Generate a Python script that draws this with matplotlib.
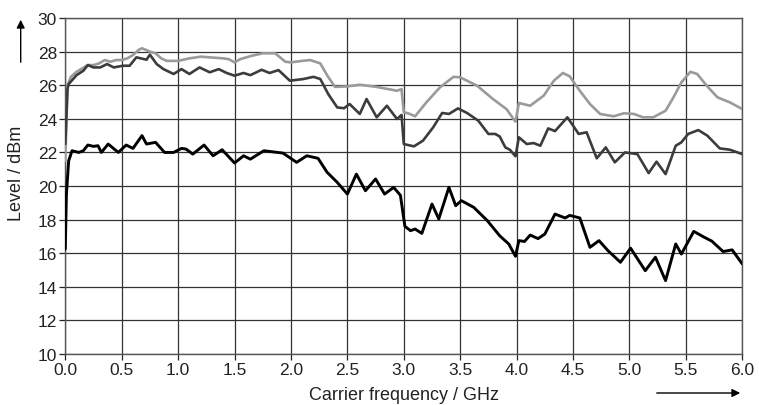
import matplotlib
matplotlib.use("Agg")
import matplotlib.pyplot as plt
from matplotlib.patches import FancyArrowPatch

plt.rcParams["font.family"] = ["Liberation Sans", "DejaVu Sans"]

light_freq = [0.0, 0.02, 0.05, 0.1, 0.15, 0.2, 0.25, 0.3, 0.35, 0.4, 0.45, 0.5, 0.55, 0.6,
              0.65, 0.68, 0.75, 0.8, 0.85, 0.9, 1.0, 1.1, 1.2, 1.3, 1.4, 1.45, 1.5, 1.55,
              1.65, 1.75, 1.86, 1.95, 2.0, 2.1, 2.17, 2.26, 2.32, 2.39, 2.5, 2.61, 2.76,
              2.94, 2.98, 3.0, 3.05, 3.1, 3.2, 3.32, 3.44, 3.5, 3.65, 3.79, 3.91, 3.99,
              4.02, 4.12, 4.24, 4.33, 4.41, 4.47, 4.56, 4.65, 4.74, 4.86, 4.95, 5.04,
              5.12, 5.21, 5.32, 5.39, 5.46, 5.54, 5.6, 5.69, 5.78, 5.89, 6.0]
light_level = [21.5, 26.0, 26.5, 26.8, 27.0, 27.2, 27.2, 27.3, 27.5, 27.4, 27.5, 27.5, 27.6,
               27.8, 28.1, 28.2, 28.0, 27.9, 27.6, 27.45, 27.45, 27.6, 27.7, 27.65, 27.6,
               27.55, 27.36, 27.55, 27.75, 27.9, 27.9, 27.4, 27.36, 27.45, 27.5, 27.3,
               26.6, 25.9, 25.93, 26.03, 25.9, 25.67, 25.77, 24.4, 24.3, 24.15, 24.98,
               25.87, 26.5, 26.47, 25.97, 25.18, 24.58, 23.83, 24.94, 24.78, 25.38, 26.27,
               26.73, 26.53, 25.67, 24.88, 24.29, 24.15, 24.33, 24.29, 24.09, 24.09,
               24.48, 25.28, 26.17, 26.8, 26.67, 25.93, 25.28, 24.98, 24.58]

dark_freq = [0.0, 0.02, 0.03, 0.1, 0.16, 0.2, 0.25, 0.31, 0.37, 0.43, 0.51, 0.57, 0.63,
             0.72, 0.75, 0.81, 0.87, 0.96, 1.03, 1.1, 1.19, 1.28, 1.36, 1.43, 1.5, 1.58,
             1.64, 1.74, 1.81, 1.89, 1.99, 2.11, 2.2, 2.26, 2.33, 2.41, 2.47, 2.52, 2.61,
             2.67, 2.76, 2.85, 2.94, 2.98, 3.0, 3.09, 3.17, 3.26, 3.34, 3.4, 3.48, 3.56,
             3.66, 3.75, 3.81, 3.85, 3.9, 3.94, 3.99, 4.02, 4.09, 4.15, 4.21, 4.28, 4.34,
             4.45, 4.55, 4.62, 4.71, 4.79, 4.87, 4.96, 5.07, 5.17, 5.24, 5.32, 5.41,
             5.46, 5.52, 5.61, 5.69, 5.8, 5.89, 6.0]
dark_level = [22.5, 25.8, 26.07, 26.6, 26.86, 27.2, 27.06, 27.06, 27.26, 27.06, 27.16,
              27.16, 27.66, 27.52, 27.82, 27.26, 26.96, 26.67, 26.96, 26.67, 27.06, 26.77,
              26.96, 26.73, 26.57, 26.73, 26.6, 26.92, 26.73, 26.9, 26.27, 26.37, 26.5,
              26.37, 25.48, 24.68, 24.63, 24.88, 24.29, 25.18, 24.09, 24.78, 23.99, 24.23,
              22.5, 22.36, 22.7, 23.49, 24.35, 24.29, 24.62, 24.35, 23.89, 23.1, 23.1,
              22.95, 22.3, 22.16, 21.77, 22.9, 22.5, 22.56, 22.4, 23.43, 23.27, 24.09,
              23.1, 23.2, 21.65, 22.3, 21.41, 22.0, 21.9, 20.77, 21.45, 20.71, 22.4,
              22.6, 23.1, 23.33, 23.0, 22.24, 22.16, 21.9]

black_freq = [0.0, 0.01, 0.03, 0.06, 0.12, 0.16, 0.2, 0.25, 0.29, 0.32, 0.38, 0.47, 0.54,
              0.6, 0.68, 0.72, 0.8, 0.88, 0.96, 1.03, 1.07, 1.13, 1.23, 1.31, 1.39, 1.5,
              1.58, 1.64, 1.76, 1.93, 2.05, 2.14, 2.24, 2.32, 2.41, 2.5, 2.58, 2.66, 2.75,
              2.83, 2.91, 2.97, 3.01, 3.06, 3.1, 3.16, 3.25, 3.31, 3.4, 3.46, 3.51, 3.62,
              3.74, 3.85, 3.93, 3.99, 4.02, 4.07, 4.12, 4.19, 4.25, 4.34, 4.43, 4.47,
              4.56, 4.65, 4.73, 4.81, 4.92, 5.01, 5.14, 5.23, 5.32, 5.41, 5.46, 5.57,
              5.66, 5.73, 5.83, 5.91, 6.0]
black_level = [16.25, 19.5, 21.5, 22.1, 22.0, 22.1, 22.44, 22.36, 22.4, 22.0, 22.5, 22.0,
               22.44, 22.24, 23.0, 22.5, 22.6, 22.0, 22.0, 22.24, 22.2, 21.9, 22.44, 21.8,
               22.16, 21.37, 21.8, 21.6, 22.1, 21.96, 21.41, 21.8, 21.65, 20.82, 20.22,
               19.52, 20.71, 19.72, 20.42, 19.52, 19.92, 19.45, 17.6, 17.34, 17.44, 17.18,
               18.93, 18.04, 19.92, 18.83, 19.13, 18.73, 17.94, 17.04, 16.55, 15.82, 16.75,
               16.7, 17.08, 16.87, 17.14, 18.33, 18.1, 18.25, 18.1, 16.35, 16.75, 16.15,
               15.46, 16.3, 14.96, 15.76, 14.37, 16.55, 15.95, 17.3, 16.96, 16.72, 16.1,
               16.2, 15.36]

x_ticks = [0.0, 0.5, 1.0, 1.5, 2.0, 2.5, 3.0, 3.5, 4.0, 4.5, 5.0, 5.5, 6.0]
y_ticks = [10, 12, 14, 16, 18, 20, 22, 24, 26, 28, 30]

fig = plt.figure(figsize=(7.59, 4.06), dpi=100)
ax = fig.add_axes([0.086, 0.1256, 0.892, 0.8275])

line_kw = dict(solid_joinstyle="round", solid_capstyle="round")
ax.plot(light_freq, light_level, color="#9a9a9a", lw=1.9, zorder=3, **line_kw)
ax.plot(dark_freq, dark_level, color="#3c3c3c", lw=1.9, zorder=4, **line_kw)
ax.plot(black_freq, black_level, color="#000000", lw=2.1, zorder=5, **line_kw)

ax.set_xlim(0, 6)
ax.set_ylim(10, 30)
ax.set_xticks(x_ticks)
ax.set_xticklabels([f"{v:.1f}" for v in x_ticks])
ax.set_yticks(y_ticks)
ax.grid(True, color="#333333", lw=0.9)
ax.tick_params(direction="out", length=4, width=0.9, labelsize=12.5, colors="#222222", pad=2)
for side in ax.spines.values():
    side.set_color("#555555")
    side.set_linewidth(1.0)

ax.set_xlabel("Carrier frequency / GHz", fontsize=13, color="#222222", labelpad=6)
ax.set_ylabel("Level / dBm", fontsize=13, color="#222222")
ax.yaxis.set_label_coords(-0.06, 0.54)

# direction arrows beside the axes
fig.patches.append(FancyArrowPatch((20.7 / 759, 1 - 66 / 406), (20.7 / 759, 1 - 18 / 406),
                                   transform=fig.transFigure, arrowstyle="-|>",
                                   mutation_scale=12, lw=1.0, color="black"))
fig.patches.append(FancyArrowPatch((654 / 759, 1 - 394 / 406), (743 / 759, 1 - 394 / 406),
                                   transform=fig.transFigure, arrowstyle="-|>",
                                   mutation_scale=12, lw=1.0, color="black"))

fig.savefig("out.png", dpi=100)
